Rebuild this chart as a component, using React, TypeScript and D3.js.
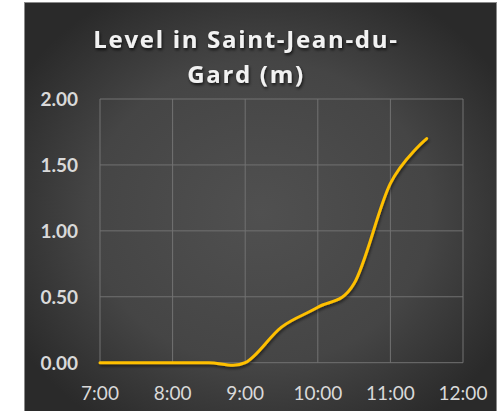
import React from "react";
import * as d3 from "d3";

const times = [7, 7.5, 8, 8.5, 9, 9.5, 10, 10.5, 11, 11.5];
const levels = [0, 0, 0, 0, 0, 0.27, 0.42, 0.6, 1.36, 1.7];
const xTicks = [7, 8, 9, 10, 11, 12];
const xTickLabels = ["7:00", "8:00", "9:00", "10:00", "11:00", "12:00"];
const yTicks = [0, 0.5, 1, 1.5, 2];
const titleLines = ["Level in Saint-Jean-du-", "Gard (m)"];

const W = 500;
const H = 411;
const plot = { left: 100, right: 463, top: 99, bottom: 362.7 };

export default function App() {
  const x = d3.scaleLinear().domain([7, 12]).range([plot.left, plot.right]);
  const y = d3.scaleLinear().domain([0, 2]).range([plot.bottom, plot.top]);
  const line = d3
    .line<number>()
    .x((_, i) => x(times[i]))
    .y((d) => y(d))
    .curve(d3.curveCatmullRom.alpha(0));
  const path = line(levels) || "";

  return (
    <svg
      width={W}
      height={H}
      style={{ position: "absolute", left: 0, top: 0 }}
    >
      <defs>
        <radialGradient id="bg" cx="0.5" cy="0.5" r="0.6">
          <stop offset="0" stopColor="#505050" />
          <stop offset="0.6" stopColor="#454545" />
          <stop offset="1" stopColor="#2a2a2a" />
        </radialGradient>
        <filter id="tshadow" x="-10%" y="-30%" width="120%" height="160%">
          <feDropShadow dx="1" dy="2" stdDeviation="1.5" floodColor="#000" floodOpacity="0.7" />
        </filter>
        <filter id="lshadow" x="-10%" y="-10%" width="120%" height="120%">
          <feDropShadow dx="1" dy="2" stdDeviation="1.5" floodColor="#000" floodOpacity="0.55" />
        </filter>
      </defs>
      <rect x={0} y={0} width={W} height={H} fill="#ffffff" />
      <rect
        x={24.5}
        y={2.5}
        width={472}
        height={H + 10}
        fill="url(#bg)"
        stroke="#8a8a8a"
        strokeWidth={1}
      />
      {yTicks.map((t) => (
        <line
          key={"gy" + t}
          x1={plot.left}
          x2={plot.right}
          y1={y(t)}
          y2={y(t)}
          stroke="#727272"
          strokeWidth={1}
        />
      ))}
      {xTicks.map((t) => (
        <line
          key={"gx" + t}
          x1={x(t)}
          x2={x(t)}
          y1={plot.top}
          y2={plot.bottom}
          stroke="#727272"
          strokeWidth={1}
        />
      ))}
      {yTicks.map((t) => (
        <text
          key={"yl" + t}
          x={78}
          y={y(t)}
          dy="0.36em"
          textAnchor="end"
          fill="#d9d9d9"
          fontFamily="Lato, 'Noto Sans', sans-serif"
          fontWeight="bold"
          fontSize={19}
        >
          {t.toFixed(2)}
        </text>
      ))}
      {xTicks.map((t, i) => (
        <text
          key={"xl" + t}
          x={x(t)}
          y={400}
          textAnchor="middle"
          fill="#d9d9d9"
          fontFamily="Lato, 'Noto Sans', sans-serif"
          fontSize={19}
        >
          {xTickLabels[i]}
        </text>
      ))}
      <path
        d={path}
        fill="none"
        stroke="#ffc000"
        strokeWidth={3}
        strokeLinecap="round"
        filter="url(#lshadow)"
      />
      <g filter="url(#tshadow)">
        {titleLines.map((t, i) => (
          <text
            key={"t" + i}
            x={246}
            y={48 + i * 35}
            textAnchor="middle"
            fill="#f2f2f2"
            fontFamily="'Open Sans', sans-serif"
            fontWeight="bold"
            fontSize={24}
            letterSpacing={1.7}
          >
            {t}
          </text>
        ))}
      </g>
    </svg>
  );
}
